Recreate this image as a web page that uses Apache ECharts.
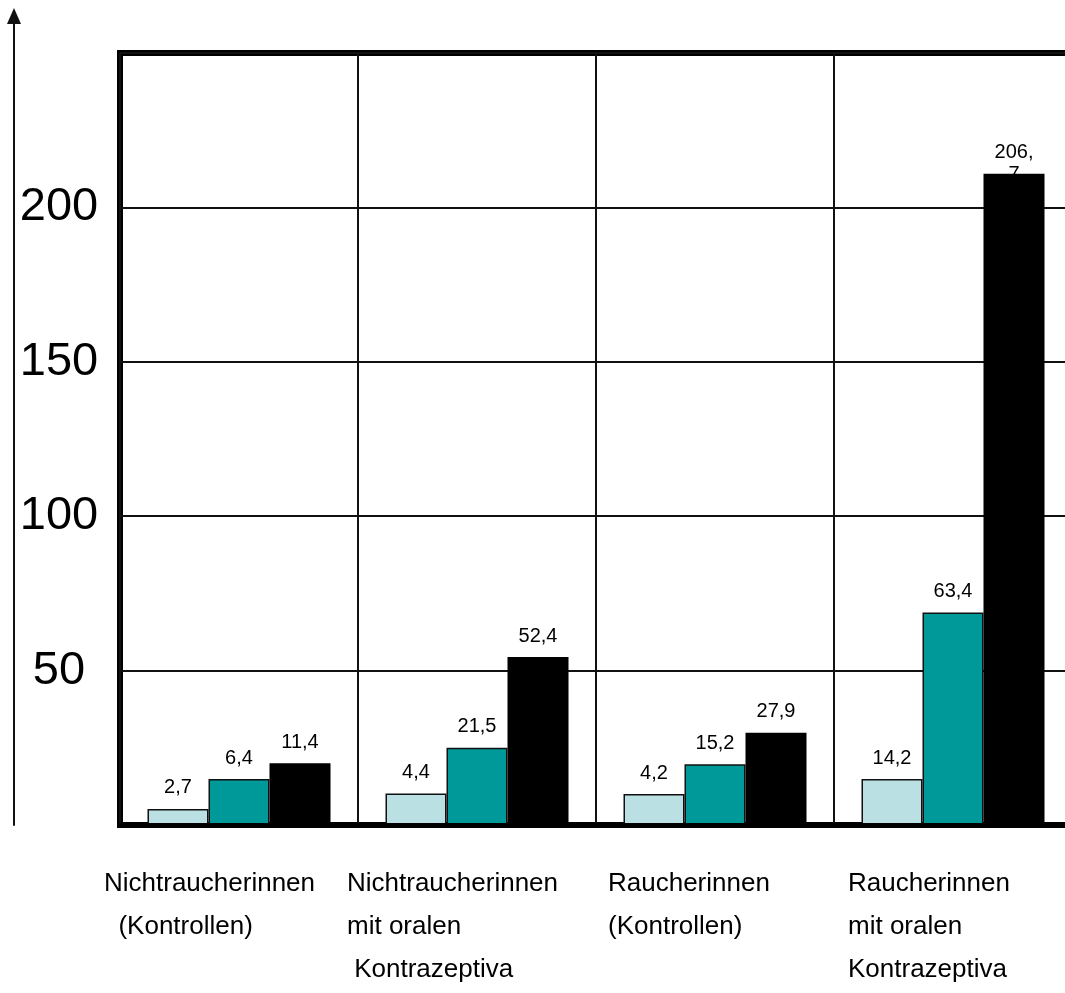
<!DOCTYPE html>
<html>
<head>
<meta charset="utf-8">
<title>Raucherinnen</title>
<script src="https://cdn.jsdelivr.net/npm/echarts@6/dist/echarts.min.js"></script>
<style>
  html, body { margin: 0; padding: 0; background: #fff; }
  #chart { width: 1065px; height: 993px; }
</style>
</head>
<body>
<div id="chart"></div>
<script>
// Kategorien (Zeilenumbrueche wie im Original)
const categories = [
  'Nichtraucherinnen\n  (Kontrollen)',
  'Nichtraucherinnen\nmit oralen\n Kontrazeptiva',
  'Raucherinnen\n(Kontrollen)',
  'Raucherinnen\nmit oralen\nKontrazeptiva'
]
// wie weit der Text links von der Kategoriemitte beginnt
const categoryShift = [-135, -130, -107, -105]

// Balkenhoehen, so wie sie gezeichnet sind
const lightValues = [5.2, 10.2, 10.0, 14.9]
const tealValues = [14.9, 25.0, 19.7, 68.8]
const blackValues = [20.0, 54.4, 29.9, 210.9]

// Beschriftungen ueber den Balken
const lightLabels = ['2,7', '4,4', '4,2', '14,2']
const tealLabels = ['6,4', '21,5', '15,2', '63,4']
const blackLabels = ['11,4', '52,4', '27,9', '206,7']

const yTicks = [50, 100, 150, 200]

const FONT = "'Liberation Sans', Arial, sans-serif"

function barData (values, labels) {
  return values.map((v, i) => {
    const item = { value: v, label: { formatter: labels[i] } }
    // "206,7" bricht um, die zweite Zeile liegt im Balken
    if (labels[i].length > 4) item.label.offset = [0, 22]
    return item
  })
}

const valueLabel = {
  show: true,
  position: 'top',
  distance: 10,
  color: '#000',
  fontFamily: FONT,
  fontSize: 20,
  lineHeight: 22,
  width: 46,
  overflow: 'breakAll'
}

const option = {
  animation: false,
  backgroundColor: '#fff',
  grid: [
    {
      left: 120,
      top: 53,
      bottom: 168,
      width: 952,
      show: true,
      borderColor: '#000',
      borderWidth: 6,
      outerBoundsMode: 'none'
    },
    // nur fuer den Pfeil ganz links
    { left: 14, top: 16, bottom: 168, width: 10, outerBoundsMode: 'none' }
  ],
  xAxis: [
    {
      type: 'category',
      gridIndex: 0,
      z: 3,
      data: categories.map((c, i) => ({
        value: c,
        textStyle: { align: 'left', padding: [0, 0, 0, categoryShift[i]] }
      })),
      axisLine: { show: true, lineStyle: { color: '#000', width: 5 } },
      axisTick: { show: false },
      splitLine: { show: true, interval: 0, lineStyle: { color: '#111', width: 2 } },
      axisLabel: {
        interval: 0,
        align: 'left',
        margin: 37,
        color: '#000',
        fontFamily: FONT,
        fontSize: 26,
        lineHeight: 43
      }
    },
    { type: 'value', gridIndex: 1, show: false }
  ],
  yAxis: [
    {
      type: 'value',
      gridIndex: 0,
      min: 0,
      max: 250,
      interval: 50,
      axisLine: { show: false },
      axisTick: { show: false },
      splitLine: { show: true, lineStyle: { color: '#111', width: 2 } },
      axisLabel: {
        showMinLabel: false,
        showMaxLabel: false,
        formatter: v => (yTicks.indexOf(v) >= 0 ? String(v) : ''),
        align: 'center',
        verticalAlign: 'middle',
        padding: [0, 0, 14, 0],
        margin: 61,
        color: '#000',
        fontFamily: FONT,
        fontSize: 47
      }
    },
    {
      type: 'value',
      gridIndex: 1,
      min: 0,
      max: 1,
      axisLine: {
        show: true,
        symbol: ['none', 'triangle'],
        symbolSize: [14, 16],
        lineStyle: { color: '#111', width: 2 }
      },
      axisTick: { show: false },
      axisLabel: { show: false },
      splitLine: { show: false }
    }
  ],
  series: [
    {
      type: 'bar',
      data: barData(lightValues, lightLabels),
      barWidth: 61,
      barGap: '0%',
      itemStyle: { color: '#bbe0e3', borderColor: '#111', borderWidth: 1.5 },
      label: valueLabel
    },
    {
      type: 'bar',
      data: barData(tealValues, tealLabels),
      barWidth: 61,
      barGap: '0%',
      itemStyle: { color: '#009999', borderColor: '#111', borderWidth: 1.5 },
      label: valueLabel
    },
    {
      type: 'bar',
      data: barData(blackValues, blackLabels),
      barWidth: 61,
      barGap: '0%',
      itemStyle: { color: '#000' },
      label: valueLabel
    }
  ]
}

const myChart = echarts.init(document.getElementById('chart'))
myChart.setOption(option)
</script>
</body>
</html>
